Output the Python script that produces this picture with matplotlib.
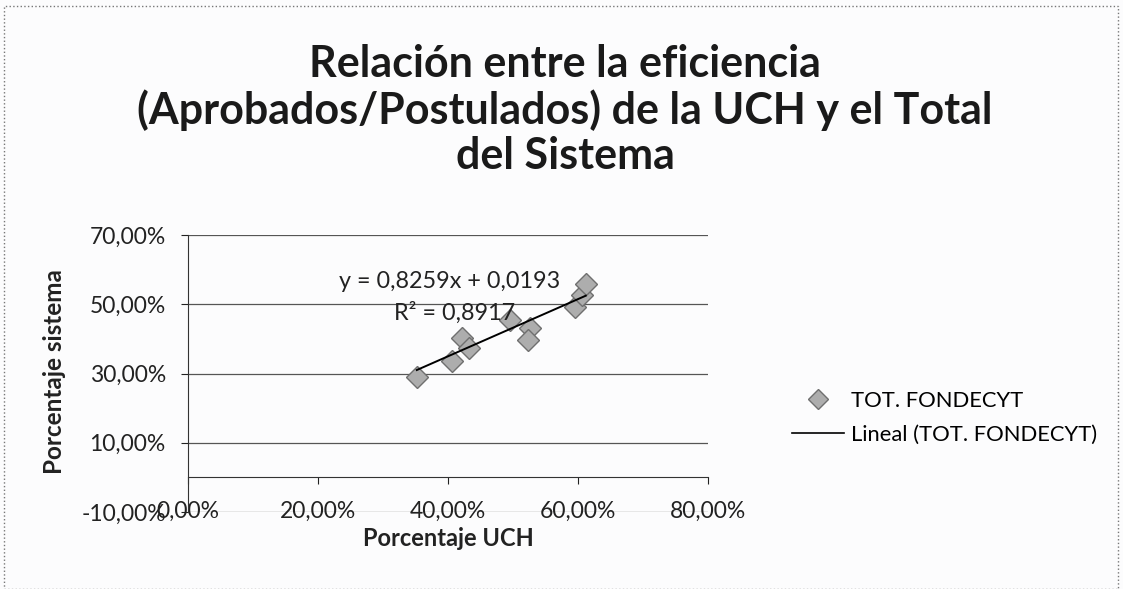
import matplotlib.pyplot as plt
import numpy as np
from matplotlib.ticker import FuncFormatter, FixedLocator
from matplotlib.lines import Line2D
from matplotlib.patches import Rectangle

# porcentaje UCH (x) vs porcentaje sistema (y)
uch_pct = [0.352, 0.406, 0.422, 0.432, 0.495, 0.526, 0.523, 0.595, 0.606, 0.612]
sistema_pct = [0.290, 0.336, 0.403, 0.374, 0.455, 0.431, 0.397, 0.492, 0.527, 0.558]

slope = 0.8259
intercept = 0.0193
r2 = 0.8917

y_ticks = [-0.10, 0.10, 0.30, 0.50, 0.70]
x_ticks = [0.0, 0.20, 0.40, 0.60, 0.80]

plt.rcParams['font.family'] = ['Lato', 'DejaVu Sans']


def pct(v, pos=None):
    return f"{v * 100:.2f}%".replace('.', ',')


fig = plt.figure(figsize=(11.23, 5.89), dpi=100, facecolor='#fcfcfd')
ax = fig.add_axes([188 / 1123, 1 - 512 / 589, 520 / 1123, 277 / 589])
ax.set_facecolor('none')

ax.set_xlim(0, 0.8)
ax.set_ylim(-0.1, 0.7)

for yv in y_ticks:
    ax.axhline(yv, color='#555555', lw=0.9, zorder=1)

# trendline
xs = np.array([min(uch_pct), max(uch_pct)])
ax.plot(xs, slope * xs + intercept, color='black', lw=1.4, zorder=4)

ax.plot(uch_pct, sistema_pct, linestyle='none', marker='D', ms=11.5,
        markerfacecolor='#adadad', markeredgecolor='#6f6f6f', mew=1.0, zorder=3)

ax.text(0.403, 0.567, f"y = {slope:.4f}x + {intercept:.4f}".replace('.', ','),
        ha='center', va='center', fontsize=16.8, color='#222222', zorder=5)
ax.text(0.41, 0.474, f"R² = {r2:.4f}".replace('.', ','),
        ha='center', va='center', fontsize=16.8, color='#222222', zorder=5)

ax.spines['top'].set_visible(False)
ax.spines['right'].set_visible(False)
ax.spines['bottom'].set_position(('data', 0))
ax.spines['bottom'].set_color('#333333')
ax.spines['left'].set_color('#333333')

ax.yaxis.set_major_locator(FixedLocator(y_ticks))
ax.xaxis.set_major_locator(FixedLocator(x_ticks))
ax.yaxis.set_major_formatter(FuncFormatter(pct))
ax.xaxis.set_major_formatter(FuncFormatter(pct))
ax.tick_params(axis='y', length=5, pad=11, labelsize=16.5, colors='#222222')
ax.tick_params(axis='x', length=5, pad=12, labelsize=16.5, colors='#222222')

fig.text(54 / 1123, 1 - 372 / 589, "Porcentaje sistema", rotation=90,
         ha='center', va='center', fontsize=17.5, fontweight='bold', color='#222222')
fig.text(448 / 1123, 1 - 538 / 589, "Porcentaje UCH",
         ha='center', va='center', fontsize=17, fontweight='bold', color='#222222')

fig.text(565 / 1123, 1 - 110 / 589,
         "Relación entre la eficiencia\n(Aprobados/Postulados) de la UCH y el Total\ndel Sistema",
         ha='center', va='center', fontsize=31, fontweight='bold', color='#1a1a1a',
         linespacing=1.15)

handles = [
    Line2D([], [], linestyle='none', marker='D', ms=10, markerfacecolor='#adadad',
           markeredgecolor='#6f6f6f'),
    Line2D([], [], color='black', lw=1.2),
]
fig.legend(handles, ["TOT. FONDECYT", "Lineal (TOT. FONDECYT)"],
           loc='center left', bbox_to_anchor=(772 / 1123, 1 - 418 / 589),
           frameon=False, fontsize=15.8, handlelength=2.4, labelspacing=0.65,
           handletextpad=0.3)

fig.patches.append(Rectangle((4 / 1123, 0.0), 1114 / 1123, 1 - 6 / 589,
                             transform=fig.transFigure, fill=False,
                             edgecolor='#777777', lw=1.0, linestyle=':'))

fig.savefig('out.png', dpi=100, facecolor=fig.get_facecolor())
